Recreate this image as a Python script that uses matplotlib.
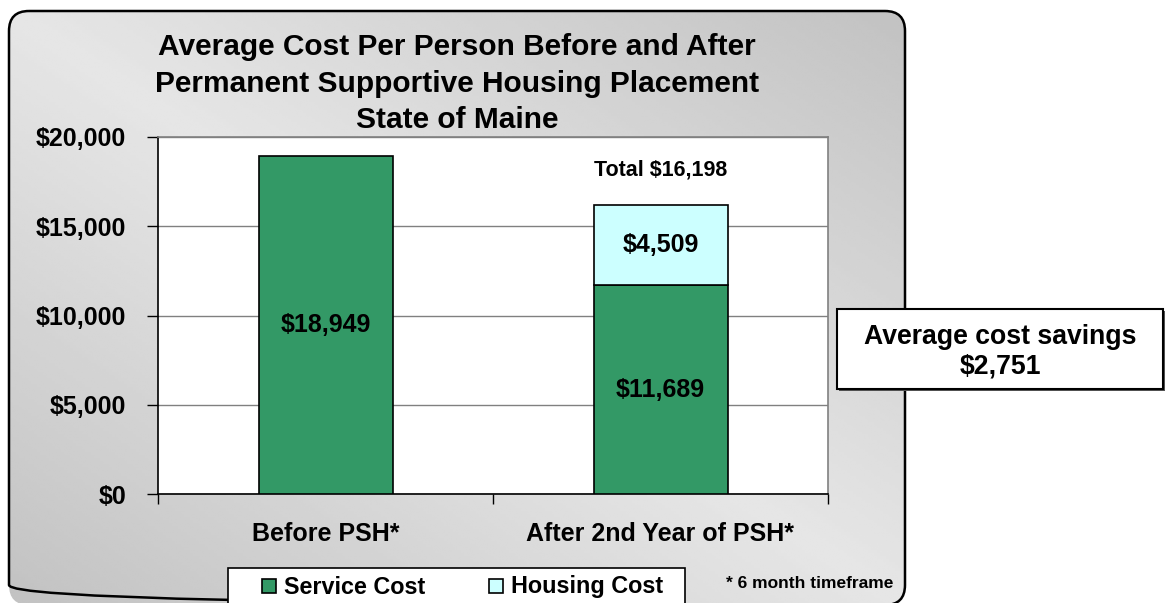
import numpy as np
import matplotlib.pyplot as plt
from matplotlib.patches import FancyBboxPatch, Rectangle

plt.rcParams['font.family'] = ['Liberation Sans', 'DejaVu Sans']
plt.rcParams['font.weight'] = 'bold'

categories = ["Before PSH*", "After 2nd Year of PSH*"]
service_cost = [18949, 11689]
housing_cost = [0, 4509]
total_after = 16198
savings = 2751
yticks = [0, 5000, 10000, 15000, 20000]

W, H = 1171, 603
fig = plt.figure(figsize=(W / 100, H / 100), dpi=100)

# background layer in pixel coords
bg = fig.add_axes([0, 0, 1, 1])
bg.set_xlim(0, W)
bg.set_ylim(H, 0)
bg.axis('off')

panel = FancyBboxPatch((9, 11), 896, 594, boxstyle="round,pad=0,rounding_size=20",
                       facecolor='none', edgecolor='black', linewidth=1.8, zorder=3)
bg.add_patch(panel)
xx, yy = np.meshgrid(np.linspace(0, 1, 300), np.linspace(0, 1, 200))
u = np.abs(xx - yy)
grad = 230 - 36 * u
img = bg.imshow(grad, cmap='gray', vmin=0, vmax=255, extent=(9, 905, 605, 11),
                aspect='auto', zorder=1, interpolation='bilinear')
img.set_clip_path(panel)

# title
for i, line in enumerate(["Average Cost Per Person Before and After",
                          "Permanent Supportive Housing Placement",
                          "State of Maine"]):
    bg.text(457, 47 + i * 36.5, line, ha='center', va='center', fontsize=21.5,
            fontweight='bold', zorder=5)

# legend box
bg.add_patch(Rectangle((228, 568), 457, 45, facecolor='white', edgecolor='black',
                       linewidth=1.2, zorder=4))
bg.add_patch(Rectangle((262, 579), 14, 14, facecolor='#339966', edgecolor='black',
                       linewidth=1.2, zorder=5))
bg.text(284, 587, "Service Cost", ha='left', va='center', fontsize=16.8, zorder=5)
bg.add_patch(Rectangle((489, 579), 14, 14, facecolor='#CCFFFF', edgecolor='black',
                       linewidth=1.2, zorder=5))
bg.text(511, 587, "Housing Cost", ha='left', va='center', fontsize=16.8, zorder=5)
bg.text(810, 584, "* 6 month timeframe", ha='center', va='center', fontsize=12.5, zorder=5)

# savings box
bg.add_patch(Rectangle((839, 311), 326, 80, facecolor='#555555', edgecolor='none', zorder=4))
bg.add_patch(Rectangle((837, 309), 326, 80, facecolor='white', edgecolor='black',
                       linewidth=1.5, zorder=5))
bg.text(1000, 337, "Average cost savings", ha='center', va='center', fontsize=19.2, zorder=6)
bg.text(1000, 366, "$" + format(savings, ","), ha='center', va='center', fontsize=19.2, zorder=6)

# chart
ax = fig.add_axes([158 / W, (H - 494) / H, 670 / W, 357 / H])
ax.set_facecolor('white')
x = np.arange(len(categories))
ax.bar(x, service_cost, width=0.4, color='#339966', edgecolor='black', linewidth=1.2, zorder=3)
ax.bar(x[1:], housing_cost[1:], width=0.4, bottom=service_cost[1:], color='#CCFFFF',
       edgecolor='black', linewidth=1.2, zorder=3)

for i in range(len(categories)):
    ax.text(x[i], service_cost[i] / 2, "$" + format(service_cost[i], ","), ha='center',
            va='center', fontsize=18, zorder=4)
    if housing_cost[i] > 0:
        ax.text(x[i], service_cost[i] + housing_cost[i] / 2, "$" + format(housing_cost[i], ","),
                ha='center', va='center', fontsize=18, zorder=4)
ax.text(x[1], 18150, "Total $" + format(total_after, ","), ha='center', va='center',
        fontsize=15.5, zorder=4)

ax.set_xlim(-0.5, 1.5)
ax.set_ylim(0, 20000)
ax.set_yticks(yticks)
ax.set_yticklabels(["$" + format(v, ",") for v in yticks], fontsize=18)
ax.yaxis.grid(True, color='#808080', linewidth=1, zorder=0)
ax.tick_params(axis='y', length=8, width=1, pad=15, direction='out')
ax.set_xticks([-0.5, 0.5, 1.5])
ax.set_xticklabels([])
ax.tick_params(axis='x', which='major', length=7, width=1, direction='out')
ax.set_xticks(x, minor=True)
ax.set_xticklabels(categories, minor=True, fontsize=18)
ax.tick_params(axis='x', which='minor', length=0, pad=20)
for s in ['left', 'bottom']:
    ax.spines[s].set_color('black')
    ax.spines[s].set_linewidth(1.2)
for s in ['top', 'right']:
    ax.spines[s].set_color('#808080')
    ax.spines[s].set_linewidth(1.2)

fig.savefig("out.png", dpi=100)
